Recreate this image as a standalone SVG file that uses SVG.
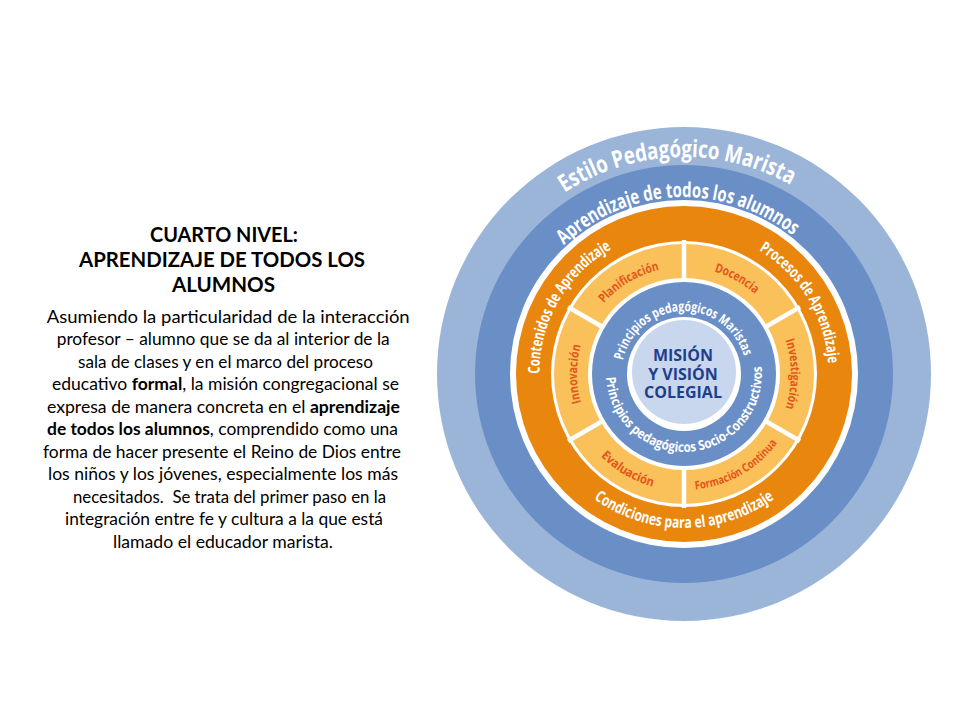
<svg xmlns="http://www.w3.org/2000/svg" width="960" height="720" viewBox="0 0 960 720">
<style>
  .panel { font-family: Lato, "Open Sans", "Liberation Sans", sans-serif; fill: #000; }
  .title { font-size: 21px; font-weight: bold; }
  .body { font-size: 17px; }
  .b { font-weight: bold; }
  .ring { font-family: "Open Sans", "Noto Sans", "Liberation Sans", sans-serif; font-weight: bold; }
  .wt { fill: #ffffff; }
  .ot { fill: #e2561a; }
  .ct { fill: #1e3f8c; font-size: 16px; }
  .div { stroke: #ffffff; stroke-width: 4.5; fill: none; }
</style>
<defs>
  <path id="pEstilo" d="M691.57,590.87 A217,217 0 0 1 676.43,157.13 A217,217 0 0 1 691.57,590.87"/>
  <path id="pAprend" d="M691.41,550.84 A177,177 0 0 1 676.59,197.16 A177,177 0 0 1 691.41,550.84"/>
  <path id="pConten" d="M809.57,446.5 A145,145 0 0 1 558.43,301.5 A145,145 0 0 1 809.57,446.5"/>
  <path id="pProces" d="M560.37,449.76 A145,145 0 0 1 807.63,298.24 A145,145 0 0 1 560.37,449.76"/>
  <path id="pCondic" d="M684,220 A154,154 0 0 0 684,528 A154,154 0 0 0 684,220"/>
  <path id="pPlanif" d="M739.11,465.72 A107,107 0 0 1 628.89,282.28 A107,107 0 0 1 739.11,465.72"/>
  <path id="pDocen" d="M632.12,467.58 A107,107 0 0 1 735.88,280.42 A107,107 0 0 1 632.12,467.58"/>
  <path id="pInvest" d="M577,374 A107,107 0 0 1 791,374 A107,107 0 0 1 577,374"/>
  <path id="pInnov" d="M791,374 A107,107 0 0 1 577,374 A107,107 0 0 1 791,374"/>
  <path id="pEval" d="M743.38,273.19 A117,117 0 0 0 624.62,474.81 A117,117 0 0 0 743.38,273.19"/>
  <path id="pForm" d="M626.88,273.03 A116,116 0 0 0 741.12,474.97 A116,116 0 0 0 626.88,273.03"/>
  <path id="pPrinM" d="M686.2,436.96 A63,63 0 0 1 681.8,311.04 A63,63 0 0 1 686.2,436.96"/>
  <path id="pPrinS" d="M678.56,296.19 A78,78 0 0 0 689.44,451.81 A78,78 0 0 0 678.56,296.19"/>
</defs>

<g id="text-panel" class="panel">
  <text class="title" x="150" y="242" textLength="148" lengthAdjust="spacingAndGlyphs">CUARTO NIVEL:</text>
  <text class="title" x="79" y="267" textLength="286" lengthAdjust="spacingAndGlyphs">APRENDIZAJE DE TODOS LOS</text>
  <text class="title" x="172" y="292" textLength="103" lengthAdjust="spacingAndGlyphs">ALUMNOS</text>
  <text class="body" x="46.7" y="322.5" textLength="363" lengthAdjust="spacingAndGlyphs">Asumiendo la particularidad de la interacción</text>
  <text class="body" x="56.7" y="345" textLength="333" lengthAdjust="spacingAndGlyphs">profesor – alumno que se da al interior de la</text>
  <text class="body" x="78" y="367.5" textLength="295" lengthAdjust="spacingAndGlyphs">sala de clases y en el marco del proceso</text>
  <text class="body" x="52" y="390" textLength="347" lengthAdjust="spacingAndGlyphs">educativo <tspan class="b">formal</tspan>, la misión congregacional se</text>
  <text class="body" x="47" y="412.5" textLength="353" lengthAdjust="spacingAndGlyphs">expresa de manera concreta en el <tspan class="b">aprendizaje</tspan></text>
  <text class="body" x="47" y="435" textLength="351" lengthAdjust="spacingAndGlyphs"><tspan class="b">de todos los alumnos</tspan>, comprendido como una</text>
  <text class="body" x="43" y="457.5" textLength="358" lengthAdjust="spacingAndGlyphs">forma de hacer presente el Reino de Dios entre</text>
  <text class="body" x="48" y="480" textLength="350" lengthAdjust="spacingAndGlyphs">los niños y los jóvenes, especialmente los más</text>
  <text class="body" x="73" y="502.5" textLength="313" lengthAdjust="spacingAndGlyphs">necesitados.&#160; Se trata del primer paso en la</text>
  <text class="body" x="65" y="525" textLength="318" lengthAdjust="spacingAndGlyphs">integración entre fe y cultura a la que está</text>
  <text class="body" x="113" y="547.5" textLength="220" lengthAdjust="spacingAndGlyphs">llamado el educador marista.</text>
</g>

<g id="ring-estilo">
  <circle cx="684" cy="374" r="247" fill="#9bb5d9"/>
  <text class="ring wt" font-size="24"><textPath href="#pEstilo" startOffset="50%" text-anchor="middle" textLength="238" lengthAdjust="spacingAndGlyphs">Estilo Pedagógico Marista</textPath></text>
</g>

<g id="ring-aprendizaje">
  <circle cx="684" cy="374" r="209" fill="#6a8fc7"/>
  <circle cx="684" cy="374" r="174" fill="#ffffff"/>
  <text class="ring wt" font-size="20.5"><textPath href="#pAprend" startOffset="50%" text-anchor="middle" textLength="250" lengthAdjust="spacingAndGlyphs">Aprendizaje de todos los alumnos</textPath></text>
</g>

<g id="ring-condiciones">
  <circle cx="684" cy="374" r="168" fill="#e8860e"/>
  <circle cx="684" cy="374" r="133" fill="#ffffff"/>
  <text class="ring wt" font-size="16"><textPath href="#pConten" startOffset="50%" text-anchor="middle" textLength="151" lengthAdjust="spacingAndGlyphs">Contenidos de Aprendizaje</textPath></text>
  <text class="ring wt" font-size="16"><textPath href="#pProces" startOffset="50%" text-anchor="middle" textLength="138" lengthAdjust="spacingAndGlyphs">Procesos de Aprendizaje</textPath></text>
  <text class="ring wt" font-size="16"><textPath href="#pCondic" startOffset="50%" text-anchor="middle" textLength="193" lengthAdjust="spacingAndGlyphs">Condiciones para el aprendizaje</textPath></text>
</g>

<g id="ring-procesos">
  <circle cx="684" cy="374" r="130" fill="#fac05a"/>
  <circle cx="684" cy="374" r="96" fill="#ffffff"/>
  <line class="div" x1="684" y1="280" x2="684" y2="240"/>
  <line class="div" x1="684" y1="468" x2="684" y2="508"/>
  <line class="div" x1="765.4" y1="327" x2="800" y2="307"/>
  <line class="div" x1="765.4" y1="421" x2="800" y2="441"/>
  <line class="div" x1="602.6" y1="421" x2="568" y2="441"/>
  <line class="div" x1="602.6" y1="327" x2="568" y2="307"/>
  <text class="ring ot" font-size="12.5"><textPath href="#pPlanif" startOffset="50%" text-anchor="middle" textLength="66" lengthAdjust="spacingAndGlyphs">Planificación</textPath></text>
  <text class="ring ot" font-size="12.5"><textPath href="#pDocen" startOffset="50%" text-anchor="middle" textLength="47" lengthAdjust="spacingAndGlyphs">Docencia</textPath></text>
  <text class="ring ot" font-size="12.5"><textPath href="#pInvest" startOffset="50%" text-anchor="middle" textLength="69" lengthAdjust="spacingAndGlyphs">Investigación</textPath></text>
  <text class="ring ot" font-size="12.5"><textPath href="#pInnov" startOffset="50%" text-anchor="middle" textLength="58" lengthAdjust="spacingAndGlyphs">Innovación</textPath></text>
  <text class="ring ot" font-size="12.5"><textPath href="#pEval" startOffset="50%" text-anchor="middle" textLength="61" lengthAdjust="spacingAndGlyphs">Evaluación</textPath></text>
  <text class="ring ot" font-size="11.5"><textPath href="#pForm" startOffset="50%" text-anchor="middle" textLength="97" lengthAdjust="spacingAndGlyphs">Formación Continua</textPath></text>
</g>

<g id="ring-principios">
  <circle cx="684" cy="374" r="92" fill="#6a8fc7"/>
  <circle cx="684" cy="374" r="57" fill="#ffffff"/>
  <text class="ring wt" font-size="13.5"><textPath href="#pPrinM" startOffset="50%" text-anchor="middle" textLength="165" lengthAdjust="spacingAndGlyphs">Principios pedagógicos Maristas</textPath></text>
  <text class="ring wt" font-size="13.5"><textPath href="#pPrinS" startOffset="50%" text-anchor="middle" textLength="249" lengthAdjust="spacingAndGlyphs">Principios pedagógicos Socio-Constructivos</textPath></text>
</g>

<g id="center-mision">
  <circle cx="684" cy="372" r="52" fill="#c8d6ee"/>
  <text class="ring ct" x="683" y="361" text-anchor="middle">MISIÓN</text>
  <text class="ring ct" x="683" y="379.5" text-anchor="middle">Y VISIÓN</text>
  <text class="ring ct" x="683" y="398" text-anchor="middle">COLEGIAL</text>
</g>
</svg>
